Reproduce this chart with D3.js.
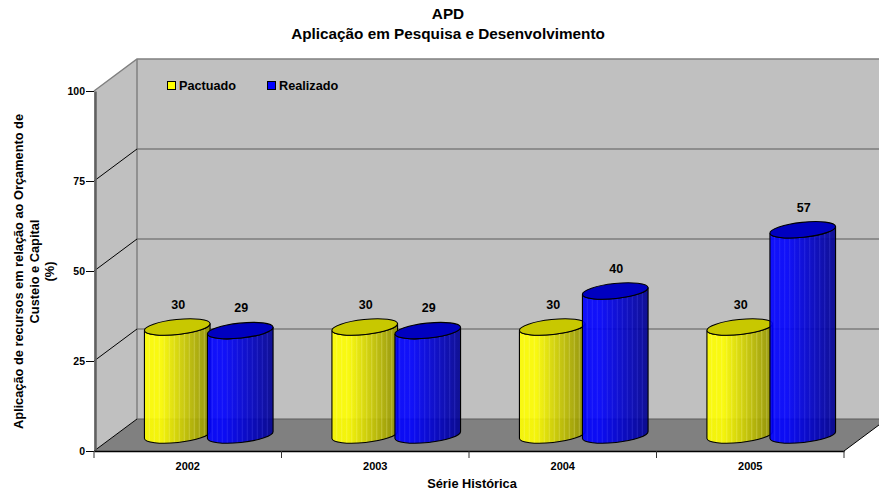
<!DOCTYPE html>
<html>
<meta charset="utf-8"/>
<head>
  <title>APD</title>
  <script src="https://d3js.org/d3.v7.min.js" charset="utf-8"></script>
  <style>
    body { margin: 0; background: #fff; }
    text { font-family: "Liberation Sans", Arial, sans-serif; font-weight: bold; fill: #000; }
  </style>
</head>
<body>
<script>
  // data
  var categories = ['2002', '2003', '2004', '2005'];
  var pactuado = [30, 30, 30, 30];
  var realizado = [29, 29, 40, 57];
  var yTicks = [0, 25, 50, 75, 100];
  var seriesNames = ['Pactuado', 'Realizado'];
  var seriesLight = ['#ffff00', '#0000ff'];
  var seriesDark = ['#8f8f00', '#00008f'];
  var seriesTop = ['#c8c800', '#0000c0'];

  var width = 879, height = 495;
  var left = 94, right = 844, bottom = 451, top_ = 91;
  var depthX = 43, depthY = 32;   // offset of the back wall
  var rx = 33, ry = 7.5, tilt = -6, seriesOffset = 31.5;

  var svg = d3.select('body').append('svg')
    .attr('width', width).attr('height', height)
    .style('display', 'block');

  var x = d3.scaleBand().domain(categories).range([left, right]);
  var y = d3.scaleLinear().domain([0, 100]).range([bottom, top_]);

  var defs = svg.append('defs');
  seriesNames.forEach(function(name, s) {
    var g = defs.append('linearGradient').attr('id', 'grad-' + s);
    g.append('stop').attr('offset', '0%').attr('stop-color', seriesLight[s]);
    g.append('stop').attr('offset', '25%').attr('stop-color', seriesLight[s]);
    g.append('stop').attr('offset', '100%').attr('stop-color', seriesDark[s]);
  });

  // walls and floor
  svg.append('polygon').attr('fill', '#c0c0c0')
    .attr('points', [[left, y(100)], [left + depthX, y(100) - depthY], [left + depthX, y(0) - depthY], [left, y(0)]].join(' '));
  svg.append('rect').attr('fill', '#c0c0c0')
    .attr('x', left + depthX).attr('y', y(100) - depthY)
    .attr('width', right - left).attr('height', y(0) - y(100));
  svg.append('polygon').attr('fill', '#808080')
    .attr('points', [[left, y(0)], [left + depthX, y(0) - depthY], [right + depthX, y(0) - depthY], [right, y(0)]].join(' '));

  // outline of the walls
  svg.append('path').attr('fill', 'none').attr('stroke', '#808080').attr('stroke-width', 1.5)
    .attr('d', 'M' + left + ',' + y(100) + 'L' + (left + depthX) + ',' + (y(100) - depthY) + 'H' + (right + depthX));
  svg.append('line').attr('stroke', '#808080').attr('stroke-width', 1.5)
    .attr('x1', left + depthX).attr('x2', left + depthX)
    .attr('y1', y(100) - depthY).attr('y2', y(0) - depthY);

  // gridlines, back wall and side wall
  yTicks.forEach(function(t) {
    if (t != 100) {
      svg.append('line').attr('stroke', '#5a5a5a').attr('stroke-width', 1.2)
        .attr('x1', left + depthX).attr('x2', right + depthX)
        .attr('y1', y(t) - depthY).attr('y2', y(t) - depthY);
    }
    if (t != 100 && t != 0) {
      svg.append('line').attr('stroke', '#000').attr('stroke-width', 1)
        .attr('x1', left).attr('x2', left + depthX)
        .attr('y1', y(t)).attr('y2', y(t) - depthY);
    }
  });
  svg.append('line').attr('stroke', '#000').attr('stroke-width', 1)
    .attr('x1', left).attr('x2', left + depthX)
    .attr('y1', y(0)).attr('y2', y(0) - depthY);
  svg.append('line').attr('stroke', '#000').attr('stroke-width', 1)
    .attr('x1', right).attr('x2', right + depthX)
    .attr('y1', y(0)).attr('y2', y(0) - depthY);

  // axes
  var yAxis = d3.axisLeft(y).tickValues(yTicks).tickSizeInner(8).tickSizeOuter(0).tickPadding(1);
  var yG = svg.append('g').attr('transform', 'translate(' + left + ',0)').call(yAxis);
  yG.select('.domain').attr('stroke', '#606060').attr('stroke-width', 2.5).attr('transform', 'translate(1,0)');
  yG.selectAll('text').style('font-size', '10.5px');

  var xAxis = d3.axisBottom(x).tickSize(0).tickPadding(11);
  var xG = svg.append('g').attr('transform', 'translate(0,' + bottom + ')').call(xAxis);
  xG.select('.domain').attr('stroke', '#000').attr('stroke-width', 1.5);
  xG.selectAll('text').style('font-size', '11px');
  d3.range(0, categories.length + 1).forEach(function(i) {
    xG.append('line').attr('stroke', '#333')
      .attr('x1', left + i * x.bandwidth()).attr('x2', left + i * x.bandwidth())
      .attr('y1', 0).attr('y2', 7);
  });

  // cylinders
  var tiltRad = tilt * Math.PI / 180;
  var ex = rx * Math.cos(tiltRad), ey = rx * Math.sin(tiltRad);
  var clipId = 0;

  function cylinder(cat, value, s) {
    var cx = x(cat) + x.bandwidth() / 2 + 21 + (s == 0 ? -seriesOffset : seriesOffset);
    var base = y(0) - depthY / 2;
    var topY = y(value) - depthY / 2;
    var arc = 'A' + rx + ',' + ry + ' ' + tilt + ' 0 ';
    var body = 'M' + (cx - ex) + ',' + (topY - ey) +
      'L' + (cx - ex) + ',' + (base - ey) +
      arc + '0 ' + (cx + ex) + ',' + (base + ey) +
      'L' + (cx + ex) + ',' + (topY + ey) +
      arc + '1 ' + (cx - ex) + ',' + (topY - ey) + 'Z';

    var g = svg.append('g');
    var id = 'clip-' + (clipId++);
    defs.append('clipPath').attr('id', id).append('path').attr('d', body);

    g.append('path').attr('d', body).attr('fill', 'url(#grad-' + s + ')').attr('fill-opacity', 0.91);

    // thin vertical facets
    var stripes = g.append('g').attr('clip-path', 'url(#' + id + ')')
      .attr('stroke', s == 0 ? '#ffffb0' : '#6060ff').attr('stroke-opacity', 0.28);
    d3.range(-28, 30, 5).forEach(function(dx) {
      stripes.append('line').attr('x1', cx + dx).attr('x2', cx + dx)
        .attr('y1', topY - 12).attr('y2', base + 12);
    });

    g.append('path').attr('d', body).attr('fill', 'none').attr('stroke', '#000').attr('stroke-width', 1.1);
    g.append('ellipse').attr('transform', 'translate(' + cx + ',' + topY + ') rotate(' + tilt + ')')
      .attr('rx', rx).attr('ry', ry)
      .attr('fill', seriesTop[s]).attr('stroke', '#000').attr('stroke-width', 1.1);

    return { x: cx + 1, y: topY - 22.5 };
  }

  var labels = [];
  categories.forEach(function(cat, i) {
    [pactuado[i], realizado[i]].forEach(function(v, s) {
      var p = cylinder(cat, v, s);
      labels.push({ x: p.x, y: p.y, v: v });
    });
  });

  svg.selectAll('text.value').data(labels).enter().append('text')
    .attr('class', 'value')
    .attr('x', function(d) { return d.x; })
    .attr('y', function(d) { return d.y; })
    .attr('dy', '.35em')
    .attr('text-anchor', 'middle')
    .style('font-size', '12.5px')
    .text(function(d) { return d.v; });

  // legend
  var legendX = [167.5, 267.5];
  seriesNames.forEach(function(name, s) {
    svg.append('rect').attr('x', legendX[s]).attr('y', 81.5)
      .attr('width', 8).attr('height', 8)
      .attr('fill', seriesLight[s]).attr('stroke', '#000');
    svg.append('text').attr('x', legendX[s] + 11.5).attr('y', 90)
      .style('font-size', '12.7px').text(name);
  });

  // titles
  svg.append('text').attr('x', 448).attr('y', 19).attr('text-anchor', 'middle')
    .style('font-size', '15.3px').text('APD');
  svg.append('text').attr('x', 448).attr('y', 39).attr('text-anchor', 'middle')
    .style('font-size', '15.3px').text('Aplicação em Pesquisa e Desenvolvimento');
  svg.append('text').attr('x', 472).attr('y', 488).attr('text-anchor', 'middle')
    .style('font-size', '12.8px').text('Série Histórica');

  var yTitle = svg.append('text').attr('transform', 'translate(0,271.5) rotate(-90)')
    .attr('text-anchor', 'middle').style('font-size', '12.8px');
  ['Aplicação de recursos em relação ao Orçamento de', 'Custeio e Capital', '(%)'].forEach(function(t, i) {
    yTitle.append('tspan').attr('x', 0).attr('y', 23 + i * 15.5).text(t);
  });
</script>
</body>
</html>
